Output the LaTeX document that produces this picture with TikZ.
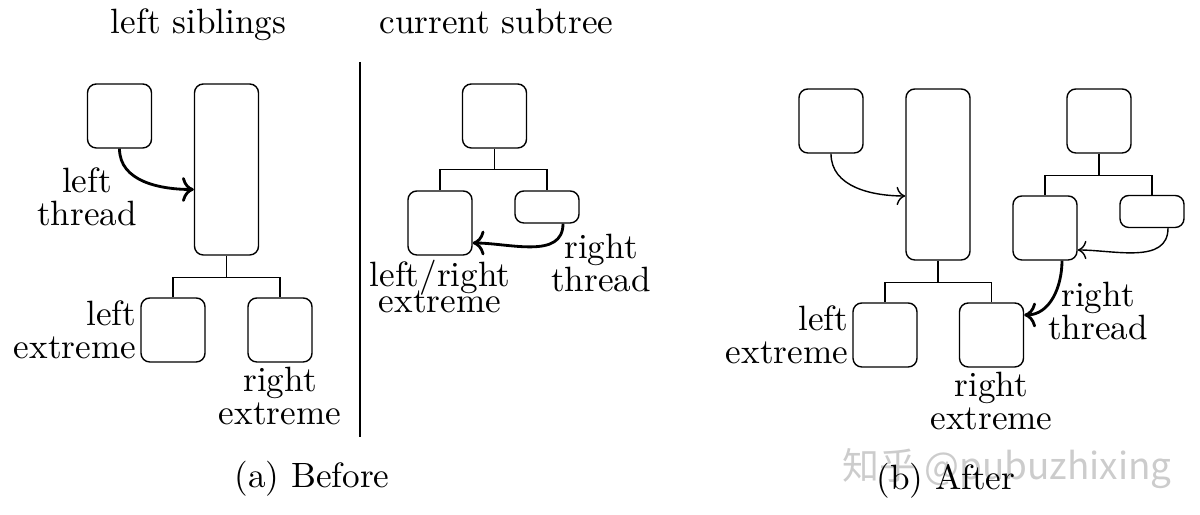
\documentclass[tikz,border=0pt]{standalone}
\usepackage{fontspec}
\newfontfamily\wmfont{Noto Sans CJK SC}
\usetikzlibrary{arrows.meta,positioning,calc}
\tikzset{
  blk/.style={draw, rounded corners=2.5pt, inner sep=0pt,
    minimum width=0.64cm, minimum height=0.64cm},
  tallblk/.style={blk, minimum height=1.71cm},
  flatblk/.style={blk, minimum height=0.32cm},
  lbl/.style={align=center, inner sep=1pt,
    font=\fontsize{10pt}{9.5pt}\selectfont},
  rlbl/.style={lbl, align=right},
  thr/.style={->, thick},
  thinthr/.style={->}
}

\begin{document}
\begin{tikzpicture}
  \useasboundingbox (0,0) rectangle (12,-5.15);
  % (a) before: left siblings
  \node[anchor=base] (ttlsib) at (1.985,-0.34) {left siblings};
  \node[blk] (ls1) at (1.195,-1.16) {};
  \node[tallblk] (ls2) at (2.265,-1.695) {};
  \node[blk] (lext) at (1.73,-3.30) {};
  \node[blk] (rext) at (2.80,-3.30) {};
  \draw (ls2.south) -- ++(0,-0.22) coordinate (ls2j) -| (lext.north);
  \draw (ls2j) -| (rext.north);
  \draw[thr] (ls1.south) to[out=-90,in=180] ([yshift=-0.2cm]ls2.west);
  \node[lbl] (lthr) at (0.87,-1.97) {left\\thread};
  \node[rlbl, left=0pt of lext] (lextlbl) {left\\extreme};
  \node[lbl, below=0pt of rext] (rextlbl) {right\\extreme};

  \draw[thick] (3.60,-0.62) -- (3.60,-4.37);

  % (a) before: current subtree
  \node[anchor=base] (ttlcur) at (4.965,-0.34) {current subtree};
  \node[blk] (cs1) at (4.945,-1.16) {};
  \node[blk] (cs2) at (4.40,-2.23) {};
  \node[flatblk] (cs3) at (5.47,-2.07) {};
  \draw (cs1.south) -- ++(0,-0.21) coordinate (cs1j) -| (cs2.north);
  \draw (cs1j) -| (cs3.north);
  \draw[thr] ([xshift=0.16cm]cs3.south) to[out=-90,in=0] ([yshift=-0.2cm]cs2.east);
  \node[lbl, below=0pt of cs2] (lrext) {left/right\\[-2pt]extreme};
  \node[lbl] (rthr) at (6.01,-2.63) {right\\thread};

  \node[anchor=base] (capa) at (3.12,-4.88) {(a) Before};

  % (b) after
  \node[blk] (as1) at (8.31,-1.21) {};
  \node[tallblk] (as2) at (9.38,-1.745) {};
  \node[blk] (alext) at (8.85,-3.35) {};
  \node[blk] (arext) at (9.915,-3.35) {};
  \draw (as2.south) -- ++(0,-0.22) coordinate (as2j) -| (alext.north);
  \draw (as2j) -| (arext.north);
  \node[blk] (ac1) at (10.99,-1.21) {};
  \node[blk] (ac2) at (10.45,-2.28) {};
  \node[flatblk] (ac3) at (11.52,-2.115) {};
  \draw (ac1.south) -- ++(0,-0.22) coordinate (ac1j) -| (ac2.north);
  \draw (ac1j) -| (ac3.north);
  \draw[thinthr] (as1.south) to[out=-90,in=180] ([yshift=-0.215cm]as2.west);
  \draw[thinthr] ([xshift=0.16cm]ac3.south) to[out=-90,in=0] ([yshift=-0.22cm]ac2.east);
  \draw[thr] ([xshift=0.17cm]ac2.south) to[out=-90,in=0] ([yshift=0.2cm]arext.east);
  \node[rlbl, left=0pt of alext] (alextlbl) {left\\extreme};
  \node[lbl, below=0pt of arext] (arextlbl) {right\\extreme};
  \node[lbl] (athr) at (10.98,-3.11) {right\\thread};

  \node[anchor=base, text=gray!40, font=\wmfont\fontsize{10.5pt}{12pt}\selectfont] (wm) at (10.07,-4.80) {知乎 @pubuzhixing};
  \node[anchor=base] (capb) at (9.46,-4.90) {(b) After};
\end{tikzpicture}
\end{document}
